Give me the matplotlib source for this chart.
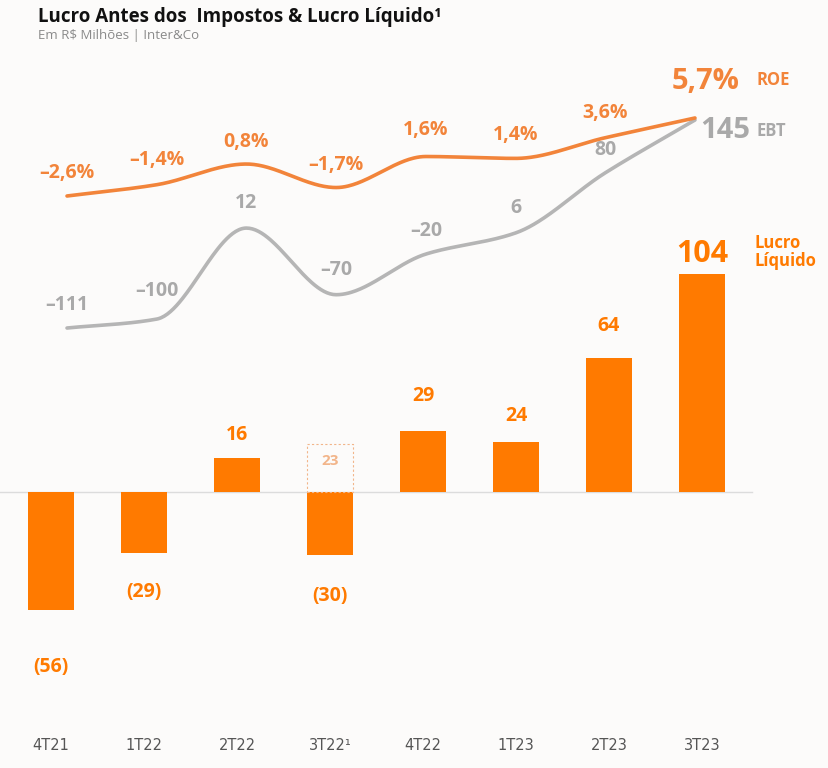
import numpy as np
import matplotlib.pyplot as plt

# data
quarters = ['4T21', '1T22', '2T22', '3T22¹', '4T22', '1T23', '2T23', '3T23']
lucro = [-56, -29, 16, -30, 29, 24, 64, 104]
ebt = [-111, -100, 12, -70, -20, 6, 80, 145]
roe = [-2.6, -1.4, 0.8, -1.7, 1.6, 1.4, 3.6, 5.7]
ajuste_3t22 = 23  # dashed box on 3T22

orange = '#FF7A00'
orange_line = '#F2843A'
light_orange = '#F2B58A'
gray_line = '#B5B5B5'
gray_text = '#A9A9A9'
bg = '#FCFBFA'

plt.rcParams['font.family'] = ['Open Sans', 'DejaVu Sans']


def smooth(xs, ys, n=60):
    # monotone cubic hermite, only used to draw the curve between the points
    xs = np.asarray(xs, float)
    ys = np.asarray(ys, float)
    h = np.diff(xs)
    d = np.diff(ys) / h
    m = np.zeros_like(ys)
    m[0], m[-1] = d[0], d[-1]
    for k in range(1, len(ys) - 1):
        if d[k - 1] * d[k] > 0:
            m[k] = 2 / (1 / d[k - 1] + 1 / d[k])
    px, py = [], []
    for k in range(len(xs) - 1):
        t = np.linspace(0, 1, n)
        h00 = 2 * t**3 - 3 * t**2 + 1
        h10 = t**3 - 2 * t**2 + t
        h01 = -2 * t**3 + 3 * t**2
        h11 = t**3 - t**2
        px.append(xs[k] + t * h[k])
        py.append(h00 * ys[k] + h10 * h[k] * m[k] + h01 * ys[k + 1] + h11 * h[k] * m[k + 1])
    return np.concatenate(px), np.concatenate(py)


def pt(px):
    return px * 0.72


fig = plt.figure(figsize=(8.29, 7.68), dpi=100, facecolor=bg)
x = np.arange(len(quarters))

# bars
ax = fig.add_axes([0, 0, 1, 1])
ax.set_xlim(-0.548, 8.366)
ax.set_ylim(-131.4, 234.3)
ax.axis('off')
ax.axhline(0, xmin=0, xmax=752 / 829, color='#DCDCDC', lw=1, zorder=1)
ax.bar(x, lucro, width=0.49, color=orange, zorder=2)
ax.bar(x[3], ajuste_3t22, width=0.49, fill=False, edgecolor=light_orange,
       linestyle=(0, (2, 2)), lw=0.8, zorder=2)
ax.annotate(str(ajuste_3t22), (x[3], ajuste_3t22 / 2), xytext=(0, pt(7)),
            textcoords='offset points', ha='center', va='center',
            fontsize=11, fontweight='bold', color=light_orange)

bar_off = [57, 39, 23, 41, 35, 26, 32, 20]
for i, v in enumerate(lucro):
    txt = str(v) if v > 0 else '(%d)' % abs(v)
    size = 22 if i == len(lucro) - 1 else 14
    dy = pt(bar_off[i]) if v > 0 else -pt(bar_off[i])
    ax.annotate(txt, (x[i], v), xytext=(0, dy), textcoords='offset points',
                ha='center', va='center', fontsize=size, fontweight='bold', color=orange)

tr = ax.get_xaxis_transform()
for i, q in enumerate(quarters):
    ax.text(x[i], 23 / 768, q, transform=tr, ha='center', va='center',
            fontsize=10.5, color='#555555',
            family=['Liberation Sans Narrow', 'DejaVu Sans'])

# EBT line
ax_e = fig.add_axes([0, 0, 1, 1])
ax_e.set_xlim(-0.747, 8.494)
ax_e.set_ylim(-652.5, 292.7)
ax_e.axis('off')
sx, sy = smooth(x, ebt)
ax_e.plot(sx, sy, color=gray_line, lw=2.6, solid_capstyle='round')
ebt_off = [23, 28, 25, 25, 23, 25, 23]
for i, v in enumerate(ebt[:-1]):
    ax_e.annotate(str(v).replace('-', '–'), (x[i], v), xytext=(0, pt(ebt_off[i])),
                  textcoords='offset points', ha='center', va='center',
                  fontsize=14, fontweight='bold', color=gray_text)
ax_e.annotate(str(ebt[-1]), (x[-1], ebt[-1]), xytext=(pt(5), -pt(10)),
              textcoords='offset points', ha='left', va='center',
              fontsize=21, fontweight='bold', color=gray_text)

# ROE line
ax_r = fig.add_axes([0, 0, 1, 1])
ax_r.set_xlim(-0.747, 8.494)
ax_r.set_ylim(-63.45, 18.25)
ax_r.axis('off')
sx, sy = smooth(x, roe)
ax_r.plot(sx, sy, color=orange_line, lw=2.6, solid_capstyle='round')
roe_off = [23, 25, 22, 23, 27, 23, 25]
for i, v in enumerate(roe[:-1]):
    ax_r.annotate(('%.1f%%' % v).replace('.', ',').replace('-', '–'), (x[i], v),
                  xytext=(0, pt(roe_off[i])), textcoords='offset points',
                  ha='center', va='center', fontsize=14, fontweight='bold', color=orange_line)
ax_r.annotate(('%.1f%%' % roe[-1]).replace('.', ','), (x[-1], roe[-1]),
              xytext=(pt(11), pt(36)), textcoords='offset points',
              ha='center', va='center', fontsize=21, fontweight='bold', color=orange_line)

# series names
fig.text(757 / 829, 1 - 80 / 768, 'ROE', ha='left', va='center', fontsize=12,
         fontweight='bold', color=orange_line)
fig.text(757 / 829, 1 - 131 / 768, 'EBT', ha='left', va='center', fontsize=12,
         fontweight='bold', color=gray_text)
fig.text(755 / 829, 1 - 252 / 768, 'Lucro\nLíquido', ha='left', va='center', fontsize=12,
         fontweight='bold', color=orange, linespacing=1.0)

# title
fig.text(38 / 829, 1 - 17 / 768, 'Lucro Antes dos  Impostos & Lucro Líquido¹', ha='left',
         va='center', fontsize=13.5, fontweight='bold', color='#111111')
fig.text(38 / 829, 1 - 36 / 768, 'Em R$ Milhões | Inter&Co', ha='left', va='center',
         fontsize=9.5, color='#8A8A8A')

fig.savefig('out.png', dpi=100, facecolor=bg)
